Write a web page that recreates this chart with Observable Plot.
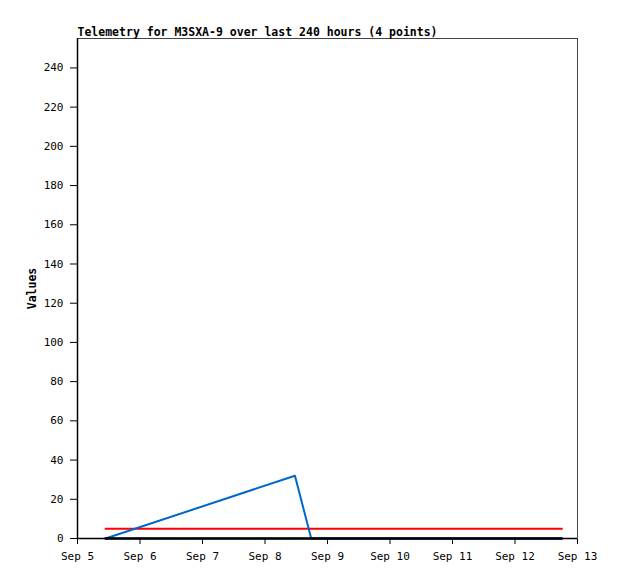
<!DOCTYPE html>
<html>
<head>
<meta charset="utf-8">
<script src="https://cdn.jsdelivr.net/npm/d3@7"></script>
<script src="https://cdn.jsdelivr.net/npm/@observablehq/plot@0.6"></script>
<style>
  html, body { margin: 0; padding: 0; background: #fff; }
  #chart svg { font-family: "DejaVu Sans Mono", monospace; }
  #chart svg [aria-label="y-axis label"] text { font-weight: bold; font-size: 11.5px; }
</style>
</head>
<body>
<div id="chart"></div>
<script>
const title = "Telemetry for M3SXA-9 over last 240 hours (4 points)";
const yLabel = "Values";
const times = ["2023-09-05T10:45Z", "2023-09-08T11:30Z", "2023-09-08T17:45Z", "2023-09-12T18:00Z"];
const values = [0, 32, 0, 0];
const threshold = 5;
const baseline = 0;
const yTicks = [0, 20, 40, 60, 80, 100, 120, 140, 160, 180, 200, 220, 240];
const xDomain = ["2023-09-05T00:00Z", "2023-09-13T00:00Z"];
const yDomain = [0, 255];

const series = times.map((t, i) => ({date: new Date(t), value: values[i]}));
const first = series[0].date, last = series[series.length - 1].date;
const refLines = [
  {date: first, value: threshold}, {date: last, value: threshold}
];
const baseLines = [
  {date: first, value: baseline}, {date: last, value: baseline}
];

const chart = Plot.plot({
  width: 618,
  height: 579,
  marginLeft: 77,
  marginRight: 41,
  marginTop: 38,
  marginBottom: 41,
  style: {fontSize: "11px", fontFamily: "'DejaVu Sans Mono', monospace", color: "#000", background: "#fff"},
  x: {type: "utc", domain: xDomain.map(d => new Date(d)), ticks: d3.utcDay.every(1), tickFormat: d3.utcFormat("%b %-d"), tickSize: 6, tickPadding: 8, label: null},
  y: {domain: yDomain, ticks: yTicks, tickSize: 7, tickPadding: 7, label: yLabel, labelAnchor: "center", labelOffset: 50, labelArrow: "none"},
  marks: [
    Plot.frame({stroke: "#444", strokeWidth: 1}),
    Plot.line(refLines, {x: "date", y: "value", stroke: "#ff0000", strokeWidth: 2}),
    Plot.line(series, {x: "date", y: "value", stroke: "#0066cc", strokeWidth: 2}),
    Plot.line(baseLines, {x: "date", y: "value", stroke: "#000", strokeWidth: 2.5}),
    Plot.ruleY([0], {stroke: "#000", strokeWidth: 1.5}),
    Plot.ruleX([new Date(xDomain[0])], {stroke: "#000", strokeWidth: 1.5}),
    Plot.text([title], {frameAnchor: "top-left", dy: -3, text: d => d, textAnchor: "start", lineAnchor: "bottom", fontWeight: "bold", fontSize: 11.5, fill: "#000"})
  ]
});
document.getElementById("chart").appendChild(chart);
</script>
</body>
</html>
